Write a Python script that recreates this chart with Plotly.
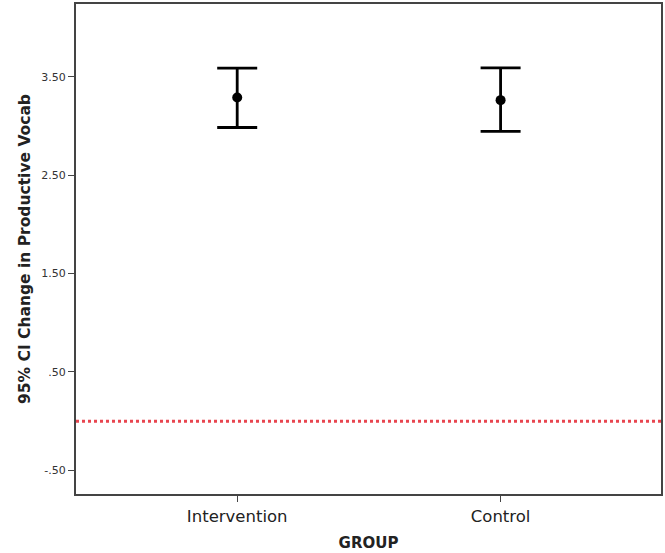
import plotly.graph_objects as go

groups = ["Intervention", "Control"]
means = [3.29, 3.263]
ci_upper = [3.588, 3.59]
ci_lower = [2.985, 2.945]
ytick_vals = [-0.5, 0.5, 1.5, 2.5, 3.5]
ytick_text = ["-.50", ".50", "1.50", "2.50", "3.50"]
ref_value = 0.0

err_plus = [u - m for u, m in zip(ci_upper, means)]
err_minus = [m - l for m, l in zip(means, ci_lower)]

fig = go.Figure()
fig.add_trace(go.Scatter(
    x=[0, 1], y=means, mode="markers",
    marker=dict(color="black", size=10),
    error_y=dict(type="data", symmetric=False, array=err_plus, arrayminus=err_minus,
                 color="black", thickness=2.8, width=20),
    showlegend=False,
))
fig.add_shape(type="line", xref="paper", x0=0, x1=1, yref="y", y0=ref_value, y1=ref_value,
              line=dict(color="#e8454f", width=3, dash="dot"))

fig.update_layout(
    width=665, height=553,
    margin=dict(l=76, r=2, t=3, b=59),
    plot_bgcolor="white", paper_bgcolor="white",
    font=dict(family="DejaVu Sans", color="#222"),
    xaxis=dict(range=[-0.612, 1.609], tickvals=[0, 1], ticktext=groups,
               showgrid=False, zeroline=False, showline=True, linecolor="#444", linewidth=2,
               mirror=True, ticks="outside", ticklen=6, tickcolor="#444",
               tickfont=dict(size=16.5, family="DejaVu Sans", color="#222"),
               title=dict(text="<b>GROUP</b>", font=dict(size=15, color="#222"), standoff=13)),
    yaxis=dict(range=[-0.74, 4.24], tickvals=ytick_vals, ticktext=ytick_text,
               showgrid=False, zeroline=False, showline=True, linecolor="#444", linewidth=2,
               mirror=True, ticks="outside", ticklen=6, tickcolor="#444",
               tickfont=dict(size=11, family="DejaVu Sans", color="#333"),
               title=dict(text="<b>95% CI Change in Productive Vocab</b>",
                          font=dict(size=15.5, color="#222"), standoff=7)),
)

fig.write_html("out.html")
